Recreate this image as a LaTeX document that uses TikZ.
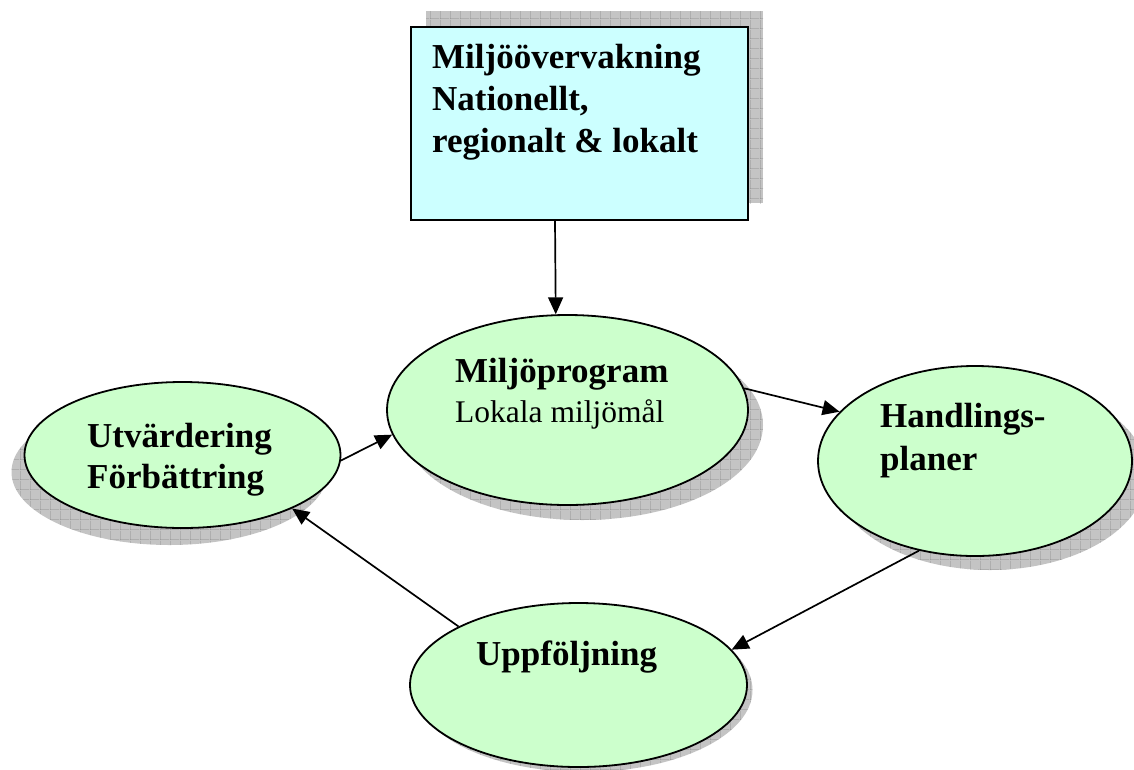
\documentclass[tikz,border=0pt]{standalone}
\usepackage{fontspec}
\setmainfont{Liberation Serif}
\usetikzlibrary{shapes.geometric,arrows.meta,patterns.meta}
\definecolor{boxc}{HTML}{CCFFFF}
\definecolor{ellc}{HTML}{CCFFCC}
\definecolor{shadowc}{HTML}{C4C4C4}
\definecolor{gridc}{HTML}{888888}
\tikzdeclarepattern{
  name=shadowgrid,
  type=uncolored,
  bounding box={(0pt,0pt) and (10pt,10pt)},
  tile size={(10pt,10pt)},
  code={\draw[line width=0.9pt] (0pt,0pt) -- (10pt,0pt) (0pt,0pt) -- (0pt,10pt);}
}
\tikzset{
  ell/.style={ellipse, draw=black, line width=1.8pt, fill=ellc, inner sep=0pt},
  topbox/.style={rectangle, draw=black, line width=1.8pt, fill=boxc, inner sep=0pt},
  shadowfill/.style={fill=shadowc},
  shadowpat/.style={pattern=shadowgrid, pattern color=gridc},
  arr/.style={line width=1.7pt, -{Triangle[length=17pt,width=15pt]}},
  bt/.style={anchor=base west, inner sep=0pt, font=\fontsize{35}{42}\selectfont\bfseries},
  rt/.style={anchor=base west, inner sep=0pt, font=\fontsize{31.5}{38}\selectfont}
}
\begin{document}
\begin{tikzpicture}[x=1pt,y=-1pt]
\useasboundingbox (0,0) rectangle (1134,769);
% shadows
\foreach \s in {shadowfill,shadowpat}{
  \path[\s] (426,11) rectangle (763,203);
  \path[\s] (169.5,472) ellipse [x radius=158, y radius=73];
  \path[\s] (582.5,425) ellipse [x radius=180.5, y radius=95];
  \path[\s] (990,475) ellipse [x radius=157, y radius=95];
  \path[\s] (584,690) ellipse [x radius=168.5, y radius=82];
}
% nodes
\node[topbox, minimum width=337pt, minimum height=193pt] (box) at (579.5,123.5) {};
\node[ell, minimum width=316pt, minimum height=146pt] (utv) at (182.5,455) {};
\node[ell, minimum width=361pt, minimum height=190pt] (prog) at (567.5,410) {};
\node[ell, minimum width=314pt, minimum height=190pt] (hand) at (975,461) {};
\node[ell, minimum width=337pt, minimum height=164pt] (upp) at (578.5,685) {};
% texts
\node[bt] (t1) at (432,68) {Miljöövervakning};
\node[bt] (t2) at (432,110) {Nationellt,};
\node[bt] (t3) at (432,152) {regionalt \& lokalt};
\node[bt] (p1) at (455,382) {Miljöprogram};
\node[rt] (p2) at (455,422) {Lokala miljömål};
\node[bt] (u1) at (87,447) {Utvärdering};
\node[bt] (u2) at (87,488) {Förbättring};
\node[bt] (h1) at (880,427) {Handlings-};
\node[bt] (h2) at (880,470) {planer};
\node[bt] (f1) at (476,665) {Uppföljning};
% connectors
\draw[arr] ([xshift=-24.5pt]box.south) -- (prog.97.5);
\draw[arr] (utv.-2.5) -- (prog.188);
\draw[arr] (prog.7.5) -- (hand.160);
\draw[arr] (hand.-122) -- (upp.13);
\draw[arr] (upp.154) -- (utv.-26);
\end{tikzpicture}
\end{document}
